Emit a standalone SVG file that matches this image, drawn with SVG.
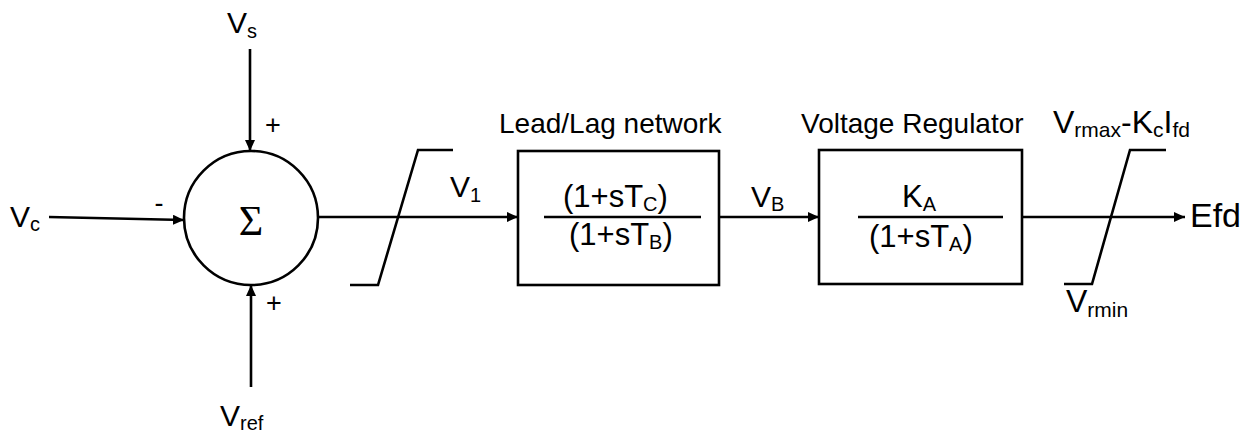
<svg xmlns="http://www.w3.org/2000/svg" width="1259" height="436" viewBox="0 0 1259 436">
<style>
  .ln{fill:none;stroke:#000;stroke-width:2.6;}
  .box{fill:#fff;stroke:#000;stroke-width:2.6;}
  text{font-family:"Liberation Sans",Arial,sans-serif;fill:#000;}
  .lbl{font-size:30px;}
  .lbr{font-size:32px;}
  .sub{font-size:20px;}
  .subr{font-size:21px;}
  .ttl{font-size:28px;}
  .frac{font-size:31px;}
  .sign{font-size:27px;text-anchor:middle;}
</style>
<defs>
  <marker id="arr" markerUnits="userSpaceOnUse" markerWidth="12" markerHeight="10" refX="11" refY="5" orient="auto">
    <path d="M0,0 L11,5 L0,10 z" fill="#000"/>
  </marker>
</defs>
<rect width="1259" height="436" fill="#fff"/>

<g id="connectors">
  <line class="ln" x1="250" y1="49" x2="250" y2="151" marker-end="url(#arr)"/>
  <line class="ln" x1="49" y1="217" x2="184" y2="220" marker-end="url(#arr)"/>
  <line class="ln" x1="251" y1="387" x2="251" y2="285" marker-end="url(#arr)"/>
  <line class="ln" x1="318" y1="217" x2="518" y2="217" marker-end="url(#arr)"/>
  <line class="ln" x1="719" y1="217" x2="819" y2="217" marker-end="url(#arr)"/>
  <line class="ln" x1="1022" y1="217" x2="1185" y2="217" marker-end="url(#arr)"/>
</g>

<g id="sum">
  <circle class="box" cx="251" cy="218" r="67"/>
  <text x="251" y="235" font-size="42" text-anchor="middle" style="font-family:'Liberation Serif','Times New Roman',serif">Σ</text>
  <text class="sign" x="273" y="134">+</text>
  <text class="sign" x="274" y="312">+</text>
  <text class="sign" x="159" y="212">-</text>
</g>

<g id="input-vs">
  <text class="lbl" x="227" y="33">V<tspan class="sub" dy="5">s</tspan></text>
</g>
<g id="input-vc">
  <text class="lbl" x="10" y="227">V<tspan class="sub" dy="4">c</tspan></text>
</g>
<g id="input-vref">
  <text class="lbl" x="220" y="426">V<tspan class="sub" dy="4">ref</tspan></text>
</g>

<g id="limiter1">
  <polyline class="ln" points="350,285 378,285 418,150 453,150"/>
  <text class="lbl" x="450" y="197">V<tspan class="sub" dy="5">1</tspan></text>
</g>

<g id="leadlag">
  <text class="ttl" x="499" y="133">Lead/Lag network</text>
  <rect class="box" x="518" y="151" width="201" height="134"/>
  <line class="ln" x1="544" y1="217" x2="701" y2="217"/>
  <text class="frac" x="563" y="207">(1+sT<tspan class="sub" dy="4">C</tspan><tspan dy="-4">)</tspan></text>
  <text class="frac" x="569" y="245">(1+sT<tspan class="sub" dy="4">B</tspan><tspan dy="-4">)</tspan></text>
</g>

<g id="vb-label">
  <text class="lbl" x="751" y="207">V<tspan class="sub" dy="4">B</tspan></text>
</g>

<g id="regulator">
  <text class="ttl" x="801" y="133">Voltage Regulator</text>
  <rect class="box" x="819" y="150" width="203" height="134"/>
  <line class="ln" x1="858" y1="217" x2="1003" y2="217"/>
  <text class="frac" x="902" y="207">K<tspan class="sub" dy="4">A</tspan></text>
  <text class="frac" x="869" y="247">(1+sT<tspan class="sub" dy="4">A</tspan><tspan dy="-4">)</tspan></text>
</g>

<g id="limiter2">
  <polyline class="ln" points="1064,284 1092,284 1130,150 1166,150"/>
  <text class="lbr" x="1053" y="133">V<tspan class="subr" dy="4">rmax</tspan><tspan dy="-4">-K</tspan><tspan class="subr" dy="4">c</tspan><tspan dy="-4">I</tspan><tspan class="subr" dy="4">fd</tspan></text>
  <text class="lbr" x="1066" y="312">V<tspan class="subr" dy="5">rmin</tspan></text>
</g>

<g id="output">
  <text x="1190" y="227" font-size="34">Efd</text>
</g>
</svg>
